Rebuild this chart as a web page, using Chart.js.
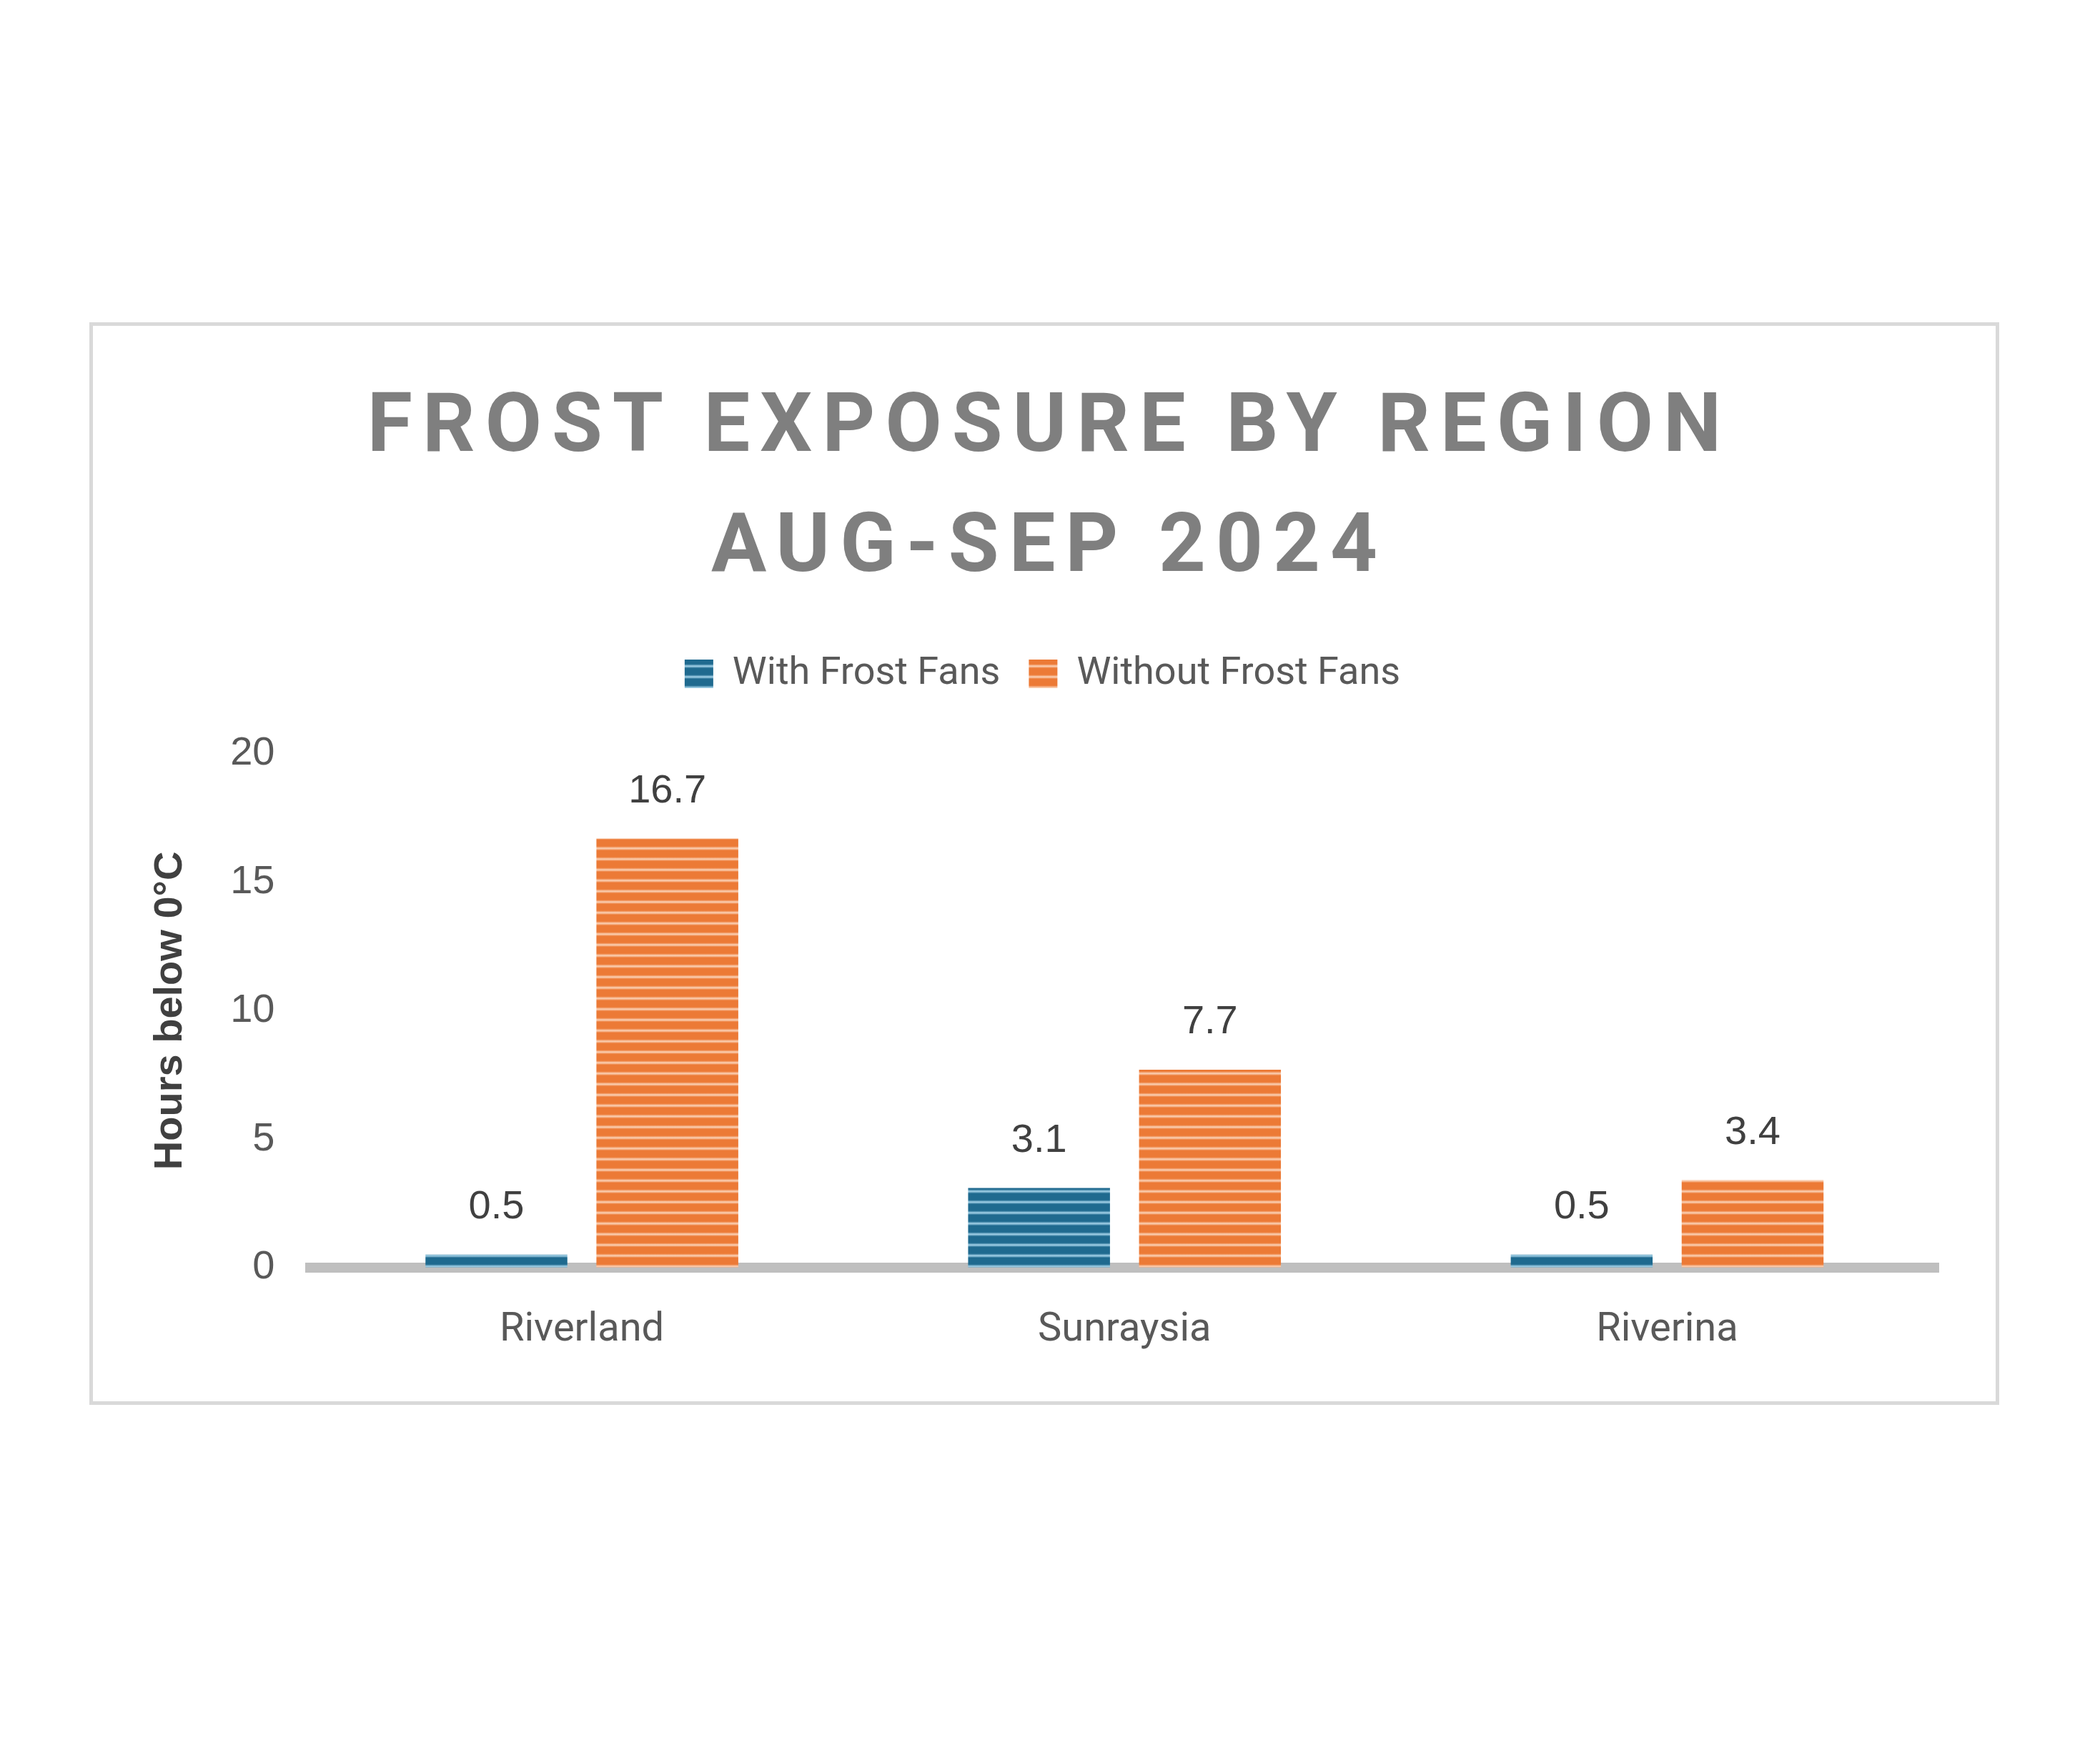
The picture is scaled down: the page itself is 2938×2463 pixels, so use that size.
<!DOCTYPE html>
<html><head><meta charset="utf-8">
<script src="https://cdn.jsdelivr.net/npm/chart.js@4"></script>
<style>
html,body{margin:0;padding:0;background:#fff;width:2938px;height:2463px;overflow:hidden}
#box{position:absolute;left:125px;top:451px;width:2662px;height:1505px;border:5px solid #d9d9d9;}
</style></head><body>
<div id="box"><canvas id="c" width="2662" height="1505"></canvas></div>
<script>
const categories = ["Riverland", "Sunraysia", "Riverina"];
const withFans = [0.5, 3.1, 0.5];
const withoutFans = [16.7, 7.7, 3.4];
const seriesNames = ["With Frost Fans", "Without Frost Fans"];
const titleLines = ["FROST EXPOSURE BY REGION", "AUG-SEP 2024"];
const yTicks = [0, 5, 10, 15, 20];

function stripes(dark, light){
  const p = document.createElement('canvas'); p.width = 4; p.height = 15;
  const g = p.getContext('2d');
  const gr = g.createLinearGradient(0,0,0,15);
  gr.addColorStop(0, dark); gr.addColorStop(0.55, dark);
  gr.addColorStop(0.75, light); gr.addColorStop(0.95, dark); gr.addColorStop(1, dark);
  g.fillStyle = gr; g.fillRect(0,0,4,15);
  return g.createPattern(p, 'repeat');
}
const ctx = document.getElementById('c').getContext('2d');
const blue = stripes('#1f6a8f', '#a6d4ea');
const orange = stripes('#ec7a36', '#fbd3b8');

const titlePlugin = {
  id: 'ttl',
  afterDraw(chart){
    const c = chart.ctx; c.save();
    c.font = 'bold 115px Roboto, "Open Sans", sans-serif';
    c.fillStyle = '#7f7f7f'; c.textAlign = 'center'; c.textBaseline = 'middle';
    c.letterSpacing = '14px';
    c.fillText(titleLines[0], chart.width/2 + 7, 146);
    c.fillText(titleLines[1], chart.width/2 + 7, 314);
    c.restore();
  }
};
const legendSpace = {
  id: 'legspace',
  beforeLayout(chart){
    const lg = chart.legend;
    if (lg && !lg._patched){
      const f = lg.fit;
      lg.fit = function(){ f.call(this); this.height += 75; };
      lg._patched = true;
    }
  }
};
const labelPlugin = {
  id: 'lbl',
  afterDatasetsDraw(chart){
    const c = chart.ctx; c.save();
    c.font = '56px "Liberation Sans", Arial, sans-serif';
    c.fillStyle = '#404040'; c.textAlign = 'center'; c.textBaseline = 'bottom';
    chart.data.datasets.forEach((ds, i) => {
      chart.getDatasetMeta(i).data.forEach((bar, j) => {
        c.fillText(ds.data[j].toFixed(1), bar.x, bar.y - 38);
      });
    });
    c.restore();
  }
};

new Chart(ctx, {
  type: 'bar',
  data: {
    labels: categories,
    datasets: [
      {label: seriesNames[0], data: withFans, backgroundColor: blue, borderWidth: 0},
      {label: seriesNames[1], data: withoutFans, backgroundColor: orange, borderWidth: 0}
    ]
  },
  options: {
    responsive: false, animation: false, devicePixelRatio: 1,
    layout: {padding: {top: 420, left: 75, right: 80, bottom: 10}},
    barPercentage: 0.83, categoryPercentage: 0.63,
    plugins: {
      title: {display: false}, tooltip: {enabled: false},
      legend: {
        position: 'top',
        labels: {
          font: {size: 54, family: 'Roboto, "Open Sans", sans-serif'}, color: '#595959',
          boxWidth: 40, boxHeight: 40, padding: 40
        }
      }
    },
    scales: {
      x: {
        grid: {display: false, drawTicks: false},
        border: {color: '#bfbfbf', width: 14},
        ticks: {font: {size: 56, family: 'Roboto, "Open Sans", sans-serif'}, color: '#595959', padding: 55}
      },
      y: {
        min: 0, max: 20,
        afterBuildTicks(s){ s.ticks = yTicks.map(v => ({value: v})); },
        grid: {display: false, drawTicks: false},
        border: {display: false},
        ticks: {font: {size: 56, family: '"Liberation Sans", Arial, sans-serif'}, color: '#595959', padding: 50},
        title: {display: true, text: 'Hours below 0°C', color: '#404040',
          font: {size: 56, weight: 'bold', family: '"Liberation Sans", Arial, sans-serif'}, padding: 0}
      }
    }
  },
  plugins: [legendSpace, titlePlugin, labelPlugin]
});
</script>
</body></html>
